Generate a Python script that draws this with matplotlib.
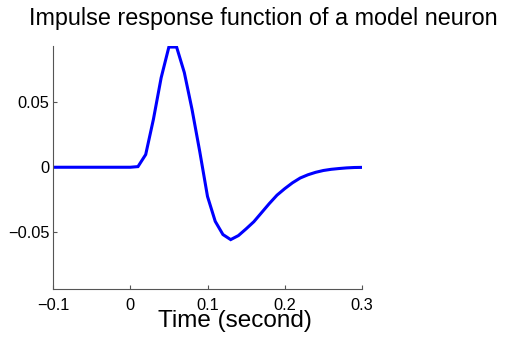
import matplotlib
matplotlib.use("Agg")
import matplotlib.pyplot as plt

# Time axis (seconds), sampled every 10 ms
time_s = [round(-0.10 + 0.01 * i, 2) for i in range(41)]

# Impulse response of the model neuron at each sample
response = [
    0.0, 0.0, 0.0, 0.0, 0.0, 0.0, 0.0, 0.0, 0.0, 0.0,      # -0.10 .. -0.01
    0.0, 0.0005, 0.0098, 0.0370, 0.0690, 0.0927, 0.0927,   # 0.00 .. 0.06
    0.0730, 0.0445, 0.0120, -0.0225, -0.0417, -0.0519,     # 0.07 .. 0.12
    -0.0558, -0.0527, -0.0475, -0.0420, -0.0350, -0.0280,  # 0.13 .. 0.18
    -0.0215, -0.0165, -0.0120, -0.0083, -0.0058, -0.0039,  # 0.19 .. 0.24
    -0.0025, -0.0016, -0.0010, -0.0005, -0.0002, -0.0001,  # 0.25 .. 0.30
]

x_ticks = [-0.1, 0.0, 0.1, 0.2, 0.3]
x_tick_labels = ["\u22120.1", "0", "0.1", "0.2", "0.3"]
y_ticks = [-0.05, 0.0, 0.05]
y_tick_labels = ["\u22120.05", "0", "0.05"]

title_text = "Impulse response function of a model neuron"
x_label = "Time (second)"

plt.rcParams["font.family"] = ["Liberation Sans", "DejaVu Sans"]

W, H = 510, 339
fig = plt.figure(figsize=(W / 100, H / 100), dpi=100)
ax = fig.add_axes([53 / W, 50.5 / H, 309 / W, 242.5 / H])

ax.plot(time_s, response, color="#0000ff", linewidth=2.2, solid_joinstyle="miter")

ax.set_xlim(-0.1, 0.3)
ax.set_ylim(-0.0935, 0.0935)
ax.set_xticks(x_ticks)
ax.set_xticklabels(x_tick_labels)
ax.set_yticks(y_ticks)
ax.set_yticklabels(y_tick_labels)

for side in ("top", "right"):
    ax.spines[side].set_visible(False)
for side in ("left", "bottom"):
    ax.spines[side].set_color("#555555")
    ax.spines[side].set_linewidth(0.8)

ax.tick_params(direction="in", length=3, width=0.8, color="#555555",
               labelsize=11.8, labelcolor="black")
ax.tick_params(axis="x", pad=6.5)
ax.tick_params(axis="y", pad=2.5)

# Axis label and title placed on the figure canvas
fig.text(234.5 / W, 11.5 / H, x_label, fontsize=17.5, ha="center", va="baseline")
fig.text(263.5 / W, (H - 25) / H, title_text, fontsize=16.8,
         ha="center", va="baseline")

fig.savefig("out.png", dpi=100)
